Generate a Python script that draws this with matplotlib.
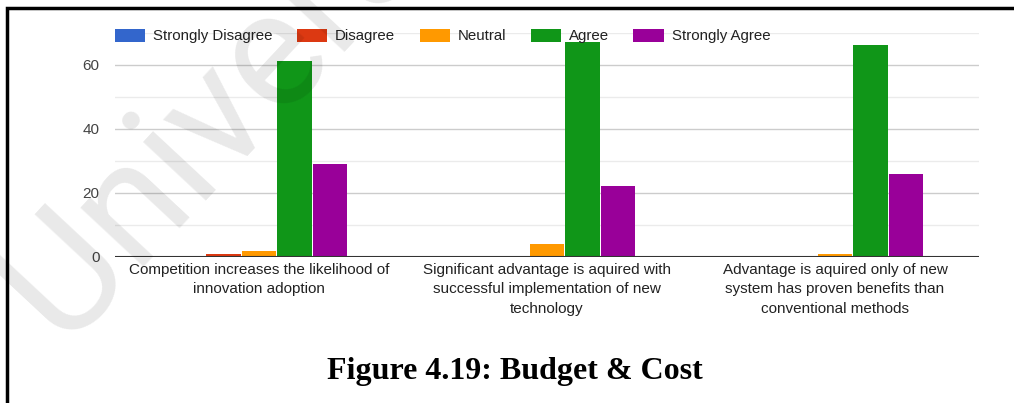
import numpy as np
import matplotlib.pyplot as plt
from matplotlib.patches import Rectangle

plt.rcParams['font.family'] = ['Liberation Sans', 'DejaVu Sans']

# Survey responses per statement
statements = [
    "Competition increases the likelihood of\ninnovation adoption",
    "Significant advantage is aquired with\nsuccessful implementation of new\ntechnology",
    "Advantage is aquired only of new\nsystem has proven benefits than\nconventional methods",
]
responses = ["Strongly Disagree", "Disagree", "Neutral", "Agree", "Strongly Agree"]
strongly_disagree = [0, 0, 0]
disagree = [1, 0, 0]
neutral = [2, 4, 1]
agree = [61, 67, 66]
strongly_agree = [29, 22, 26]
colors = ["#3366cc", "#dc3912", "#ff9900", "#109618", "#990099"]

series = [strongly_disagree, disagree, neutral, agree, strongly_agree]

W, H = 1014, 403
fig = plt.figure(figsize=(W / 100, H / 100), dpi=100)
ax = fig.add_axes([115 / W, 1 - 257 / H, (979 - 115) / W, (257 - 32.6) / H])

x = np.arange(len(statements))
w = 0.1233
for k, (vals, name, c) in enumerate(zip(series, responses, colors)):
    ax.bar(x + (k - 2) * w, vals, width=w * 0.97, color=c, label=name,
           linewidth=0, zorder=3)

ax.set_xlim(-0.5, 2.5)
ax.set_ylim(0, 70)
ax.set_yticks([0, 20, 40, 60])
ax.set_yticks([10, 30, 50, 70], minor=True)
ax.grid(axis='y', which='major', color='#cccccc', linewidth=1, zorder=0)
ax.grid(axis='y', which='minor', color='#ebebeb', linewidth=1, zorder=0)
ax.axhline(0, color='#333333', linewidth=1.5, zorder=4)
for s in ax.spines.values():
    s.set_visible(False)

ax.tick_params(axis='y', which='both', length=0, pad=11, labelsize=11,
               labelcolor='#444444')
ax.tick_params(axis='x', length=0, pad=4, labelsize=10.95, labelcolor='#222222')
ax.set_xticks(x)
ax.set_xticklabels(statements, linespacing=1.52)

leg = ax.legend(loc='center left', bbox_to_anchor=(0.0, 1 - (36 - 32.6) / (257 - 32.6)),
                ncol=5, frameon=False, fontsize=10.85, handlelength=2.0,
                handleheight=0.95, handletextpad=0.53, columnspacing=1.62,
                borderaxespad=0, borderpad=0)
for t in leg.get_texts():
    t.set_color('#222222')

fig.text(515 / W, 1 - 371 / H, "Figure 4.19: Budget & Cost",
         family='Liberation Serif', weight='bold', fontsize=23,
         ha='center', va='center')

# page watermark
fig.text(62 / W, 1 - 343 / H, "University", family=['Roboto', 'DejaVu Sans'],
         fontsize=117, color='black', alpha=0.09, rotation=47,
         rotation_mode='anchor', ha='left', va='baseline', zorder=10)

# page frame
fig.add_artist(Rectangle((7 / W, -0.2), 1.5, 1.2 - 8 / H, transform=fig.transFigure,
                         fill=False, edgecolor='black', linewidth=2.5, clip_on=False))

fig.savefig("out.png", dpi=100)
